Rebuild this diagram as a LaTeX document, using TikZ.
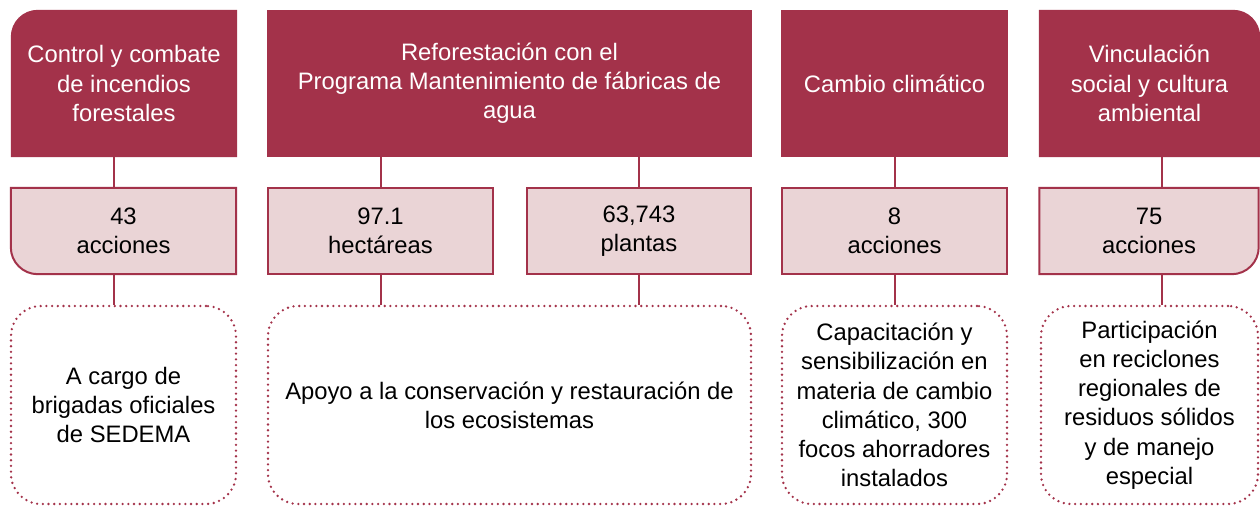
\documentclass[tikz,border=0pt]{standalone}
\usepackage{fontspec}
\setmainfont{Liberation Sans}
\usetikzlibrary{backgrounds}
\definecolor{wine}{HTML}{A3324A}
\definecolor{blush}{HTML}{EAD4D6}
\newcommand{\boxfont}{\fontsize{23.8}{29.2}\selectfont}
\begin{document}
\begin{tikzpicture}[x=1pt,y=1pt,
  base/.style={inner sep=0pt, align=center, font=\boxfont},
  topbox/.style={base, minimum height=147pt, text=white},
  topfill/.style={topbox, fill=wine},
  midbox/.style={base, minimum height=86pt, text=black},
  midfill/.style={midbox, fill=blush, draw=wine, line width=2pt},
  shapefill/.style={fill=blush, draw=wine, line width=2pt},
  dotbox/.style={base, minimum height=198pt, draw=wine, line width=2.6pt,
    dash pattern=on 0pt off 5.7pt, line cap=round, rounded corners=30pt},
  conn/.style={draw=wine, line width=2pt}
]
\useasboundingbox (0,0) rectangle (1260,507);

% top row
\node[topbox, minimum width=226pt] (t1) at (124,423.5) {Control y combate\\de incendios\\forestales};
\node[topfill, minimum width=485pt] (t2) at (509.5,423.5) {Reforestación con el\\Programa Mantenimiento de fábricas de\\agua};
\node[topfill, minimum width=227pt] (t3) at (894.5,423.5) {Cambio climático};
\node[topbox, minimum width=221pt] (t4) at (1149.5,423.5) {Vinculación\\social y cultura\\ambiental};

% middle row
\node[midbox, minimum width=225pt] (m1) at (123.5,276) {43\\acciones};
\node[midfill, minimum width=225pt] (m2a) at (380.5,276) {97.1\\hectáreas};
\node[midfill, minimum width=224pt] (m2b) at (639,276) {63,743\\plantas};
\node[midfill, minimum width=225pt] (m3) at (894.5,276) {8\\acciones};
\node[midbox, minimum width=219pt] (m4) at (1149,276) {75\\acciones};

% bottom row
\node[dotbox, minimum width=225pt] (b1) at (123.5,102) {A cargo de\\brigadas oficiales\\de SEDEMA};
\node[dotbox, minimum width=483pt] (b2) at (509.5,102) {Apoyo a la conservación y restauración de\\los ecosistemas};
\node[dotbox, minimum width=225pt] (b3) at (894.5,102) {Capacitación y\\sensibilización en\\materia de cambio\\climático, 300\\focos ahorradores\\instalados};
\node[dotbox, minimum width=217pt] (b4) at (1149.5,102) {Participación\\en reciclones\\regionales de\\residuos sólidos\\y de manejo\\especial};

\begin{pgfonlayer}{background}
\fill[wine] (t1.south west) -- ([yshift=-27pt]t1.north west)
  arc[start angle=180, end angle=90, radius=27pt] -- (t1.north east) -- (t1.south east) -- cycle;
\fill[wine] (t4.south west) -- (t4.north west) -- ([xshift=-27pt]t4.north east)
  arc[start angle=90, end angle=0, radius=27pt] -- (t4.south east) -- cycle;
\draw[shapefill] ([xshift=27pt]m1.south west)
  arc[start angle=270, end angle=180, radius=27pt] -- (m1.north west) -- (m1.north east) -- (m1.south east) -- cycle;
\draw[shapefill] (m4.south west) -- (m4.north west) -- (m4.north east) -- ([yshift=27pt]m4.south east)
  arc[start angle=0, end angle=-90, radius=27pt] -- cycle;
\end{pgfonlayer}

% connectors
\draw[conn] ([xshift=-10.5pt]t1.south) -- ([xshift=-10pt]m1.north);
\draw[conn] ([xshift=-10pt]m1.south) -- ([xshift=-10pt]b1.north);
\draw[conn] (m2a.north |- t2.south) -- (m2a.north);
\draw[conn] (m2b.north |- t2.south) -- (m2b.north);
\draw[conn] (m2a.south) -- (m2a.south |- b2.north);
\draw[conn] (m2b.south) -- (m2b.south |- b2.north);
\draw[conn] (t3.south) -- (m3.north);
\draw[conn] (m3.south) -- (b3.north);
\draw[conn] ([xshift=12.5pt]t4.south) -- ([xshift=13pt]m4.north);
\draw[conn] ([xshift=13pt]m4.south) -- ([xshift=12.5pt]b4.north);
\end{tikzpicture}
\end{document}
